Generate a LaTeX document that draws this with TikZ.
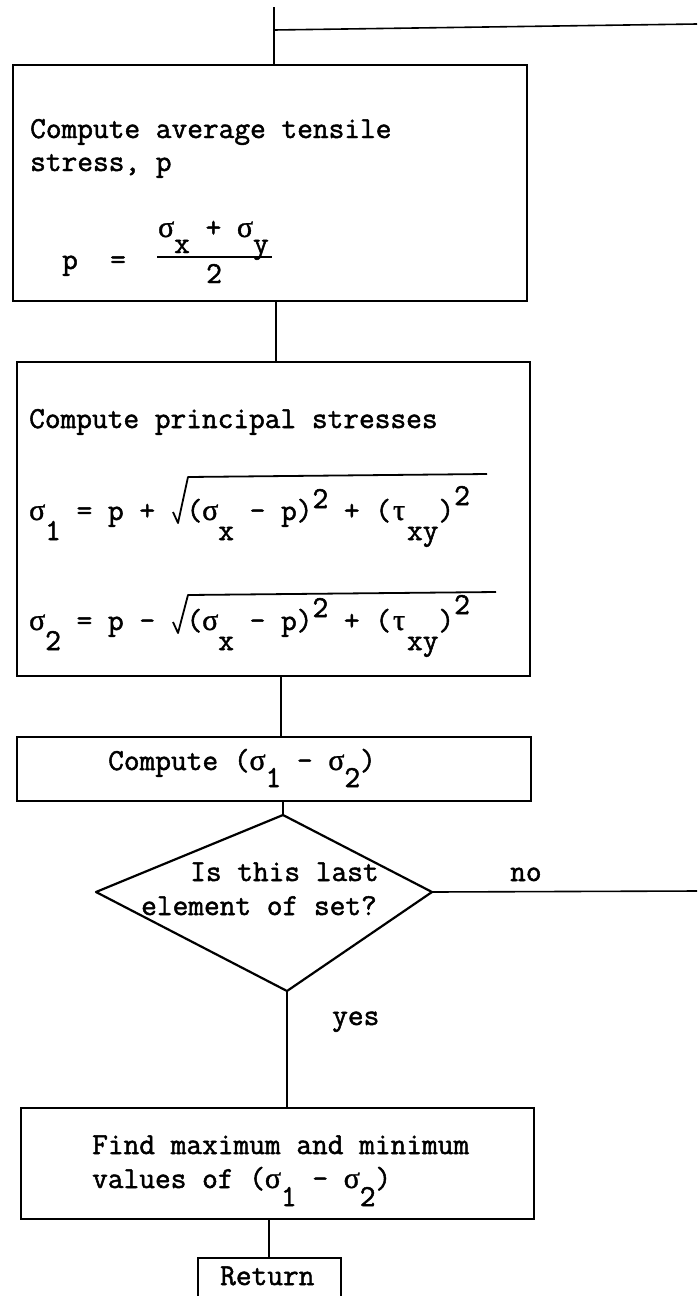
\documentclass[tikz,border=0pt]{standalone}
\usepackage{fontspec}
\newfontfamily\twb{Latin Modern Mono}[FakeBold=1.6]
\newfontfamily\grk{Liberation Serif}[FakeBold=1.2]
\newcommand\dn[2]{\raisebox{-#1pt}{#2}}
\newcommand\up[2]{\raisebox{#1pt}{#2}}
\newcommand\gs{\makebox[16pt]{\grk\fontsize{30}{33}\selectfont σ}}
\newcommand\gt{\makebox[16pt]{\grk\fontsize{30}{33}\selectfont τ}}
\begin{document}
\begin{tikzpicture}[x=1pt,y=-1pt,
  boxst/.style={draw,line width=2.2pt,anchor=north west,inner sep=0pt},
  conn/.style={line width=1.6pt},
  shp/.style={line width=2.2pt,line join=round},
  txt/.style={anchor=base west,inner sep=0pt,font=\twb\fontsize{30.5}{33}\selectfont}]
\useasboundingbox[fill=white] (0,0) rectangle (697,1296);

% boxes
\node[boxst,minimum width=514pt,minimum height=236pt] (b1) at (12,64) {};
\node[boxst,minimum width=513pt,minimum height=314pt] (b2) at (16,361) {};
\node[boxst,minimum width=514pt,minimum height=64pt] (b3) at (16,736) {};
\node[boxst,minimum width=513pt,minimum height=111pt] (b4) at (20,1107) {};
\node[boxst,minimum width=143pt,minimum height=60pt] (ret) at (197,1257) {};

% diamond
\coordinate (dT) at (283,815);
\coordinate (dR) at (432,892);
\coordinate (dB) at (287,991);
\coordinate (dL) at (96,892);
\draw[shp] (dT) -- (dR) -- (dB) -- (dL) -- cycle;

% free ends
\coordinate (top) at (274,7);
\coordinate (loopin) at (697,24);
\coordinate (noend) at (697,891);
\coordinate (x1) at (274,0);
\coordinate (x2) at (276,0);
\coordinate (x3) at (281,0);
\coordinate (x5) at (269,0);

% connectors
\draw[conn] (top) -- (b1.north -| x1);
\draw[conn] (274,30) coordinate (j) -- (loopin);
\draw[conn] (b1.south -| x2) -- (b2.north -| x2);
\draw[conn] (b2.south -| x3) -- (b3.north -| x3);
\draw[conn] (b3.south -| dT) -- (dT);
\draw[conn] (dR) -- (noend);
\draw[conn] (dB) -- (b4.north -| dB);
\draw[conn] (b4.south -| x5) -- (ret.north -| x5);

% box 1 text
\node[txt] (t1a) at (30,138) {Compute average tensile};
\node[txt] (t1b) at (30,171) {stress, p};
\node[txt] (t1p) at (62,269) {p};
\node[txt] (t1e) at (110,269) {=};
\node[txt] (t1n) at (158,237) {\gs\dn{16}{x} + \gs\dn{16}{y}};
\draw[line width=2pt] (157,257) -- (272,257);
\node[txt] (t1d) at (206,283) {2};

% box 2 text
\node[txt] (t2a) at (29,428) {Compute principal stresses};
\node[txt] (t2b) at (29,520) {\gs\dn{20}{1} = p +\ \ (\gs\dn{20}{x} - p)\up{12}{2} + (\gt\dn{20}{xy})\up{15}{2}};
\node[txt] (t2c) at (29,630) {\gs\dn{20}{2} = p -\ \ (\gs\dn{20}{x} - p)\up{13}{2} + (\gt\dn{20}{xy})\up{16}{2}};
\draw[line width=1.8pt,line join=round] (173,512) -- (178,523) -- (188,477) -- (487,474);
\draw[line width=1.8pt,line join=round] (173,622) -- (178,633) -- (188,595) -- (496,592);

% box 3 text
\node[txt] (t3) at (108,770) {Compute (\gs\dn{17}{1} - \gs\dn{17}{2})};

% decision text
\node[txt] (tq1) at (190,881) {Is this last};
\node[txt] (tq2) at (141,915) {element of set?};
\node[txt] (tno) at (510,881) {no};
\node[txt] (tyes) at (332,1025) {yes};

% box 4 text
\node[txt] (t4a) at (92,1154) {Find maximum and minimum};
\node[txt] (t4b) at (92,1188) {values of (\gs\dn{18}{1} - \gs\dn{18}{2})};

% return
\node[txt] (tr) at (220,1285) {Return};
\end{tikzpicture}
\end{document}
